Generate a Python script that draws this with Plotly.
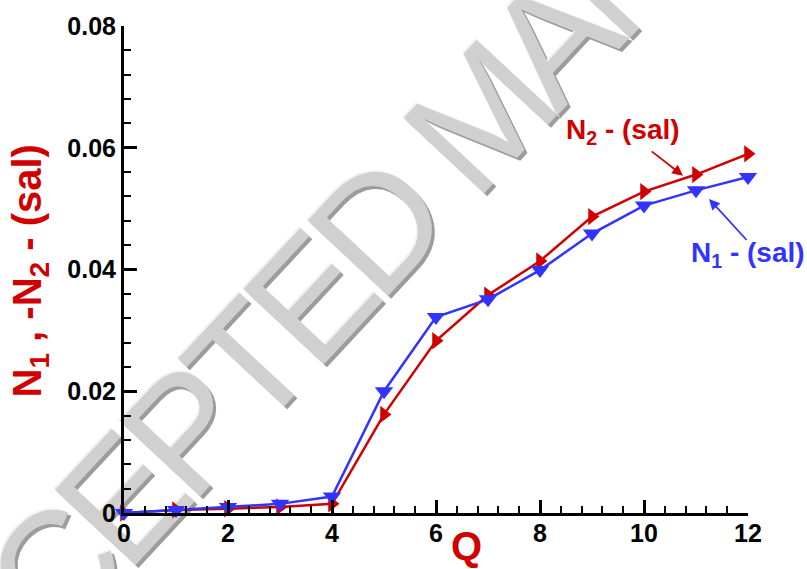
import math
import plotly.graph_objects as go

# Salinity response of the two normal coefficients versus Q
q = [0, 1, 2, 3, 4, 5, 6, 7, 8, 9, 10, 11, 12]
n2_sal = [0.0, 0.0005, 0.0007, 0.0010, 0.0015, 0.0162, 0.0283, 0.0358, 0.0414, 0.0487, 0.0528, 0.0556, 0.0590]
n1_sal = [0.0, 0.0005, 0.0010, 0.0015, 0.0027, 0.0200, 0.0322, 0.0351, 0.0399, 0.0459, 0.0505, 0.0530, 0.0552]

x_ticks = [0, 2, 4, 6, 8, 10, 12]
y_ticks = [0, 0.02, 0.04, 0.06, 0.08]
y_tick_text = ["0", "0.02", "0.04", "0.06", "0.08"]

RED = "#d00000"
BLUE = "#3333ff"
FONT = "Arial, Liberation Sans, sans-serif"

W, H = 807, 569
ML, MR, MT, MB = 124, 59, 23, 56
PW, PH = W - ML - MR, H - MT - MB


def px_to_paper(px, py):
    return (px - ML) / PW, (H - MB - py) / PH


fig = go.Figure()

fig.add_trace(go.Scatter(
    x=q, y=n2_sal, mode="lines+markers", name="N2 - (sal)",
    line=dict(color=RED, width=2.5),
    marker=dict(symbol="triangle-right", size=15, color=RED),
    cliponaxis=False,
))
fig.add_trace(go.Scatter(
    x=q, y=n1_sal, mode="lines+markers", name="N1 - (sal)",
    line=dict(color=BLUE, width=2.5),
    marker=dict(symbol="triangle-down", size=16, color=BLUE),
    cliponaxis=False,
))

# Diagonal embossed watermark, laid out letter by letter behind the data
wm_text = "ACCEPTED MANUSCRIPT"
glyph_em = {"A": .667, "C": .722, "E": .667, "P": .667, "T": .611, "D": .722, " ": .278,
            "M": .833, "N": .722, "U": .722, "S": .667, "R": .722, "I": .278}
wm_size = 160
wm_px_per_em = 142
wm_angle = 47.0
anchor_idx, anchor_px = 4, (176, 418)  # the "P" of ACCEPTED

centers = []
acc = 0.0
for ch in wm_text:
    w = glyph_em[ch]
    centers.append(acc + w / 2)
    acc += w
ux, uy = math.cos(math.radians(wm_angle)), -math.sin(math.radians(wm_angle))

for dx, dy, col in [(3, 3, "#9c9c9c"), (-1.5, -1.5, "#f2f2f2"), (0, 0, "#d0d0d0")]:
    for i, ch in enumerate(wm_text):
        if ch == " ":
            continue
        d = (centers[i] - centers[anchor_idx]) * wm_px_per_em
        px = anchor_px[0] + d * ux + dx
        py = anchor_px[1] + d * uy + dy
        cx, cy = px_to_paper(px, py)
        fig.add_shape(
            type="line", xref="paper", yref="paper", layer="below",
            x0=cx - 0.002, y0=cy, x1=cx + 0.002, y1=cy,
            line=dict(width=0, color="rgba(0,0,0,0)"),
            label=dict(text=ch, textangle=-wm_angle, textposition="middle",
                       xanchor="center", yanchor="middle",
                       font=dict(family=FONT, size=wm_size, color=col)),
        )

annotations = [
    # axis titles
    dict(text="<b>Q</b>", xref="paper", yref="paper",
         x=px_to_paper(466, 546)[0], y=px_to_paper(466, 546)[1],
         showarrow=False, xanchor="center", yanchor="middle",
         font=dict(family=FONT, size=40, color=RED)),
    dict(text="<b>N<sub>1</sub> , -N<sub>2</sub> - (sal)</b>", xref="paper", yref="paper",
         x=px_to_paper(30, 270)[0], y=px_to_paper(30, 270)[1], textangle=-90,
         showarrow=False, xanchor="center", yanchor="middle",
         font=dict(family=FONT, size=40, color=RED)),
    # series labels
    dict(text="<b>N<sub>2</sub> - (sal)</b>", x=9.6, y=0.0627,
         showarrow=False, xanchor="center", yanchor="middle",
         font=dict(family=FONT, size=28, color=RED)),
    dict(text="<b>N<sub>1</sub> - (sal)</b>", x=12.0, y=0.0424,
         showarrow=False, xanchor="center", yanchor="middle",
         font=dict(family=FONT, size=28, color=BLUE)),
    # pointer arrows
    dict(text="", x=10.75, y=0.0554, ax=10.12, ay=0.0596, axref="x", ayref="y",
         showarrow=True, arrowhead=2, arrowsize=1.2, arrowwidth=1.8, arrowcolor=RED),
    dict(text="", x=11.25, y=0.0516, ax=12.0, ay=0.0446, axref="x", ayref="y",
         showarrow=True, arrowhead=2, arrowsize=1.2, arrowwidth=1.8, arrowcolor=BLUE),
]

fig.update_layout(
    width=W, height=H,
    margin=dict(l=ML, r=MR, t=MT, b=MB, pad=0),
    paper_bgcolor="white", plot_bgcolor="white",
    showlegend=False,
    annotations=annotations,
    font=dict(family=FONT, color="black"),
)

axis_common = dict(
    showline=True, linecolor="black", linewidth=3, mirror=False,
    showgrid=False, zeroline=False,
    ticks="inside", ticklen=13, tickwidth=3, tickcolor="black",
    tickfont=dict(family=FONT, size=25, color="black"),
)

fig.update_xaxes(
    range=[0, 12], tickvals=x_ticks, ticktext=[f"<b>{v}</b>" for v in x_ticks],
    ticklabelstandoff=-4,
    minor=dict(dtick=0.4, tick0=0, ticks="inside", ticklen=7, tickwidth=1.5, tickcolor="black"),
    **axis_common,
)
fig.update_yaxes(
    range=[0, 0.08], tickvals=y_ticks, ticktext=[f"<b>{t}</b>" for t in y_tick_text],
    minor=dict(dtick=0.004, tick0=0, ticks="inside", ticklen=7, tickwidth=1.5, tickcolor="black"),
    **axis_common,
)

fig.write_html("out.html")
